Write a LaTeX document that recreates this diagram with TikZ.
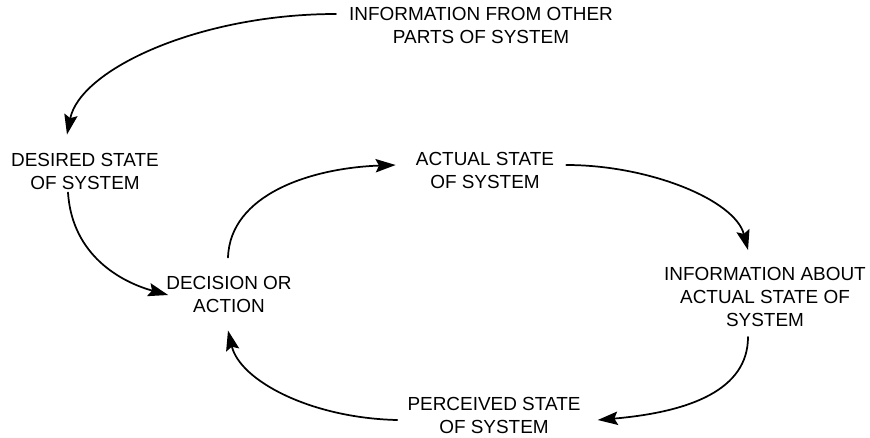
\documentclass[tikz,border=0pt]{standalone}
\usepackage{fontspec}
\setmainfont{Liberation Sans}
\usetikzlibrary{arrows.meta}
\begin{document}
\begin{tikzpicture}[x=0.75pt,y=-0.75pt,line cap=round,line join=round,
	>={Stealth[length=15pt,width=10pt,inset=2.5pt]},
	lbl/.style={align=center,inner sep=0pt,font=\fontsize{14.2}{17.25}\selectfont},
	flow/.style={->,line width=1.3pt}]
	\useasboundingbox (0,0) rectangle (870,437);
	\node[lbl] (other) at (481,25) {INFORMATION FROM OTHER\\PARTS OF SYSTEM};
	\node[lbl] (desired) at (85,171) {DESIRED STATE\\OF SYSTEM};
	\node[lbl] (decision) at (229,294) {DECISION OR\\ACTION};
	\node[lbl] (actual) at (485,170) {ACTUAL STATE\\OF SYSTEM};
	\node[lbl] (about) at (765,297) {INFORMATION ABOUT\\ACTUAL STATE OF\\SYSTEM};
	\node[lbl] (perceived) at (494,415) {PERCEIVED STATE\\OF SYSTEM};
	\draw[flow] ([shift={(-13,-11)}]other.west) .. controls +(-137,0) and +(13,-65) .. ([shift={(-18,-18)}]desired.north);
	\draw[flow] ([shift={(-17,3)}]desired.south) .. controls +(4,63) and +(-47,-13) .. ([shift={(2,1)}]decision.west);
	\draw[flow] ([shift={(-1,-18)}]decision.north) .. controls +(2,-63) and +(-85,3) .. ([shift={(-20,-5)}]actual.west);
	\draw[flow] ([shift={(12,-5)}]actual.east) .. controls +(83,0) and +(-13,-50) .. ([shift={(-17,-17)}]about.north);
	\draw[flow] ([shift={(-17,10)}]about.south) .. controls +(0,53) and +(92,-8) .. ([shift={(17,5)}]perceived.east);
	\draw[flow] ([shift={(-10,5)}]perceived.west) .. controls +(-87,-2) and +(12,50) .. ([shift={(-1,18)}]decision.south);
\end{tikzpicture}
\end{document}
